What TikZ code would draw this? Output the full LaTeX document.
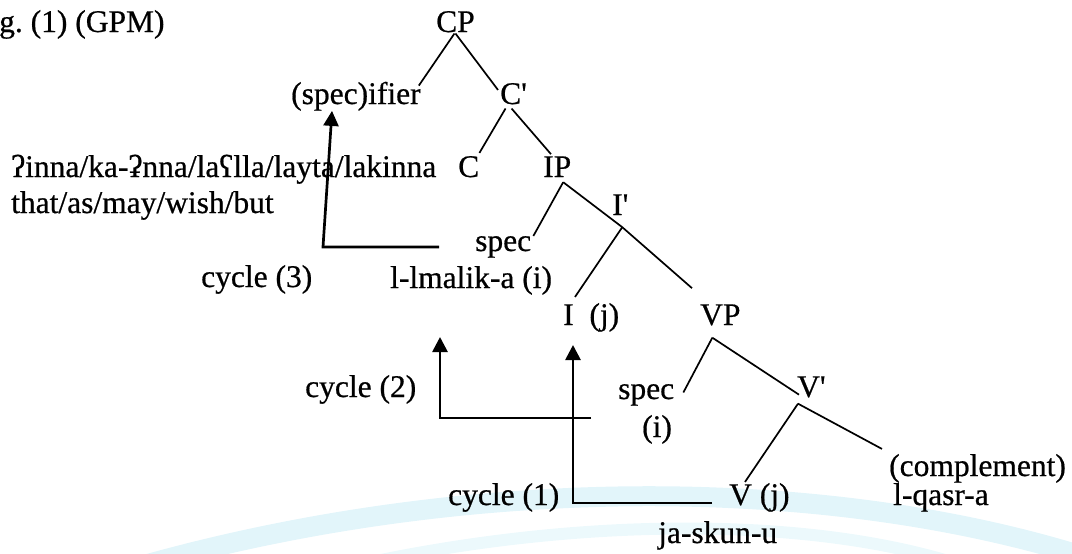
\documentclass[tikz,border=0pt]{standalone}
\usepackage{fontspec}
\setmainfont[FakeBold=0.6]{Liberation Serif}
\usetikzlibrary{arrows.meta,calc}
\definecolor{wmcyan}{RGB}{226,245,250}
\definecolor{wmcyanlight}{RGB}{236,249,252}
\newcommand{\prm}{\textquotesingle}
\frenchspacing
\begin{document}
\begin{tikzpicture}[x=1pt,y=-1pt,
  lbl/.style={anchor=base west, inner sep=0pt, font=\fontsize{31.5}{36}\selectfont},
  edge/.style={line width=1.7pt},
  movearrow/.style={line width=2.7pt, -{Triangle[length=15pt,width=15pt]}},
  wmband/.style={draw=wmcyan, line cap=butt}]
\useasboundingbox (0,0) rectangle (1072,554);

% faint background bands
\draw[wmband, line width=20pt] (100,578) .. controls (450,470) and (850,470) .. (1130,572);
\draw[draw=wmcyanlight, line width=12pt] (280,584) .. controls (550,510) and (850,510) .. (1010,584);

% labels
\node[lbl] (title) at (-1,32) {g.\ (1) (GPM)};
\node[lbl] (CP)    at (436,32)  {CP};
\node[lbl] (specA) at (291,104) {(spec)ifier};
\node[lbl] (Cbar)  at (500,104) {C\prm};
\node[lbl] (comps) at (11,177)  {ʔinna/ka-ʡnna/laʕlla/layta/lakinna};
\node[lbl] (C)     at (458,177) {C};
\node[lbl] (IP)    at (543,177) {IP};
\node[lbl] (gloss) at (11,213)  {that/as/may/wish/but};
\node[lbl] (Ibar)  at (612,215) {I\prm};
\node[lbl] (specB) at (475,251) {spec};
\node[lbl] (cyc3)  at (201,287) {cycle (3)};
\node[lbl] (subj)  at (390,288) {l-lmalik-a (i)};
\node[lbl] (Ij)    at (563,325) {I~~(j)};
\node[lbl] (VP)    at (700,325) {VP};
\node[lbl] (cyc2)  at (305,397) {cycle (2)};
\node[lbl] (specC) at (618,399) {spec};
\node[lbl] (Vbar)  at (797,397) {V\prm};
\node[lbl] (idx)   at (642,437) {(i)};
\node[lbl] (comp)  at (889,476) {(complement)};
\node[lbl] (cyc1)  at (448,505) {cycle (1)};
\node[lbl] (Vj)    at (729,505) {V (j)};
\node[lbl] (obj)   at (893,505) {l-qasr-a};
\node[lbl] (verb)  at (658,543) {ja-skun-u};

% branching points below the phrase labels
\coordinate (IbarJ) at ($(Ibar.south)+(2,12)$);
\coordinate (VPJ)   at ($(VP.south)+(-8,12)$);
\coordinate (VbarJ) at ($(Vbar.south west)+(1,6)$);

% tree branches
\draw[edge] ($(CP.south)+(-1,1)$) -- ($(specA.north east)+(-2,4)$);
\draw[edge] ($(CP.south)+(0,1)$)  -- ($(Cbar.north west)+(-2,7)$);
\draw[edge] ($(Cbar.south)+(-8,4)$) -- ($(C.north east)+(0,-3)$);
\draw[edge] ($(Cbar.south)+(-2,4)$) -- ($(IP.north west)+(8,-2)$);
\draw[edge] ($(IP.south)+(6,5)$) -- ($(specB.north east)+(2,0)$);
\draw[edge] ($(IP.south)+(6,5)$) -- (IbarJ);
\draw[edge] (IbarJ) -- ($(Ij.north west)+(12,-6)$);
\draw[edge] (IbarJ) -- ($(VP.north west)+(-8,-16)$);
\draw[edge] (VPJ) -- ($(specC.north east)+(9,8.5)$);
\draw[edge] (VPJ) -- ($(Vbar.south west)+(2,-3)$);
\draw[edge] (VbarJ) -- ($(Vj.north west)+(16,-1)$);
\draw[edge] (VbarJ) -- ($(comp.north west)+(-7,-5)$);

% movement paths
\coordinate (m3a) at (439,247);
\coordinate (m3b) at (323,247);
\draw[movearrow] (m3a) -- (m3b) -- ($(specA.south west)+(41,0)$);

\coordinate (m2a) at (591,418);
\coordinate (m2b) at (440,418);
\coordinate (m2t) at (440,337);
\draw[movearrow] (m2a) -- (m2b) -- (m2t);

\coordinate (m1a) at (712,503);
\coordinate (m1b) at (573,503);
\coordinate (m1t) at (573,345);
\draw[movearrow] (m1a) -- (m1b) -- (m1t);
\end{tikzpicture}
\end{document}
